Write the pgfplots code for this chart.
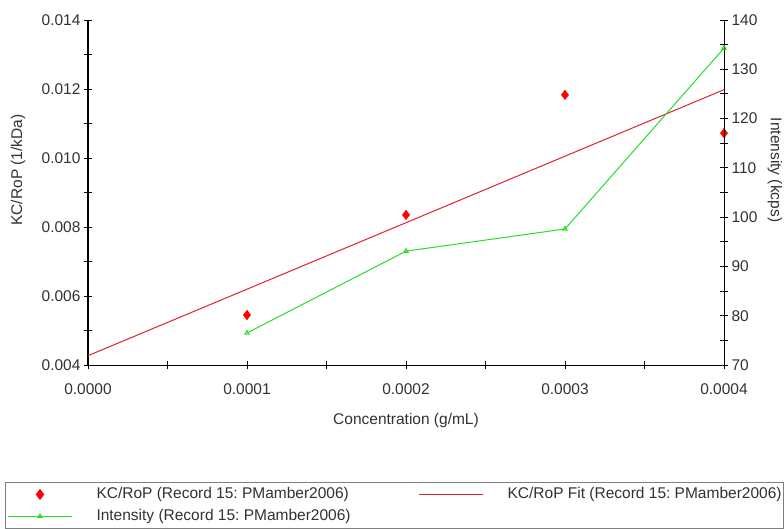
\documentclass[border=0pt]{standalone}
\usepackage{pgfplots}
\pgfplotsset{compat=1.18}
\usepackage{fontspec}
\setmainfont{Liberation Sans}
\frenchspacing
\definecolor{kcred}{RGB}{255,0,0}
\definecolor{fitred}{RGB}{225,35,45}
\definecolor{intgreen}{RGB}{40,220,40}
\definecolor{txt}{RGB}{50,50,50}
\pgfplotsset{
  commonaxis/.style={
    scale only axis, width=636pt, height=345pt,
    at={(88pt,163pt)}, anchor=south west,
    xmin=0, xmax=0.0004,
    tick align=center,
    major tick length=8pt, minor tick length=8pt,
    every major tick/.append style={draw=black, line width=0.9pt},
    every minor tick/.append style={draw=black, line width=0.9pt},
    axis line style={black, line width=1pt},
    tick label style={font=\fontsize{15.5}{18}\selectfont, text=txt},
    label style={font=\fontsize{15.5}{18}\selectfont, text=txt},
    /pgf/number format/assume math mode=true,
    scaled x ticks=false, scaled y ticks=false,
  }
}
\begin{document}
\begin{tikzpicture}
% helper axes: tick marks only
\begin{axis}[commonaxis,
  axis x line*=bottom, axis y line*=left,
  ymin=0.004, ymax=0.014,
  xtick=\empty, ytick=\empty,
  minor xtick={0,0.00005,0.0001,0.00015,0.0002,0.00025,0.0003,0.00035,0.0004},
  minor ytick={0.004,0.005,0.006,0.007,0.008,0.009,0.010,0.011,0.012,0.013,0.014},
]
\addplot[draw=none] coordinates {(0.0001,0.005)};
\end{axis}
\begin{axis}[commonaxis,
  axis x line=none, axis y line*=right,
  ymin=70, ymax=140,
  ytick=\empty,
  minor ytick={70,75,...,140},
]
\addplot[draw=none] coordinates {(0.0001,80)};
\end{axis}
% main axes
\begin{axis}[commonaxis,
  axis x line*=bottom, axis y line*=left,
  ymin=0.004, ymax=0.014,
  xtick={0,0.0001,0.0002,0.0003,0.0004},
  minor xtick={0.00005,0.00015,0.00025,0.00035},
  ytick={0.004,0.006,0.008,0.010,0.012,0.014},
  minor ytick={0.005,0.007,0.009,0.011,0.013},
  xticklabel={\pgfmathprintnumber[fixed,fixed zerofill,precision=4]{\tick}},
  yticklabel={\pgfmathprintnumber[fixed,fixed zerofill,precision=3]{\tick}},
  xticklabel style={yshift=-11pt},
  xlabel={Concentration (g/mL)},
  ylabel={KC/RoP (1/kDa)},
  xlabel style={at={(axis description cs:0.5,-0.1594)}, anchor=center},
  ylabel style={at={(axis description cs:-0.110,0.565)}, anchor=center},
  legend columns=2,
  legend cell align=left,
  legend style={at={(-0.1305,-0.3391)}, anchor=north west, draw=gray, line width=1pt,
    font=\fontsize{15.5}{18}\selectfont, text=txt,
    inner xsep=2pt, inner ysep=5pt,
    nodes={inner sep=0pt, text height=11pt, text depth=3pt},
    row sep=8pt,
    /tikz/every odd column/.append style={column sep=24pt},
    /tikz/every even column/.append style={column sep=68pt},
  },
  legend image code/.code={\draw[mark repeat=2,mark phase=2,#1] plot coordinates {(0pt,0pt) (32pt,0pt) (64pt,0pt)};},
]
\addplot[only marks, mark=diamond*, mark size=4.8pt, color=kcred] coordinates {(0.0001,0.00545) (0.0002,0.00835) (0.0003,0.01183) (0.0004,0.01072)};
\addlegendentry{KC/RoP (Record 15: PMamber2006)}
\addplot[fitred, line width=1pt, no marks] coordinates {(0,0.00427) (0.0004,0.01198)};
\addlegendentry{KC/RoP Fit (Record 15: PMamber2006)}
\addlegendimage{intgreen, line width=1pt, mark=triangle, mark size=2.5pt}
\addlegendentry{Intensity (Record 15: PMamber2006)}
\end{axis}
\begin{axis}[commonaxis,
  axis x line=none, axis y line*=right,
  ymin=70, ymax=140,
  ytick={70,80,...,140},
  minor ytick={75,85,...,135},
  ylabel={Intensity (kcps)},
  ylabel style={at={(axis description cs:1.080,0.565)}, anchor=center, rotate=180},
]
\addplot[intgreen, line width=1pt, mark=triangle, mark size=2.5pt] coordinates {(0.0001,76.5) (0.0002,93.1) (0.0003,97.6) (0.0004,134.3)};
\end{axis}
\pgfresetboundingbox
\path (0,0) rectangle (784pt,528pt);
\end{tikzpicture}
\end{document}
